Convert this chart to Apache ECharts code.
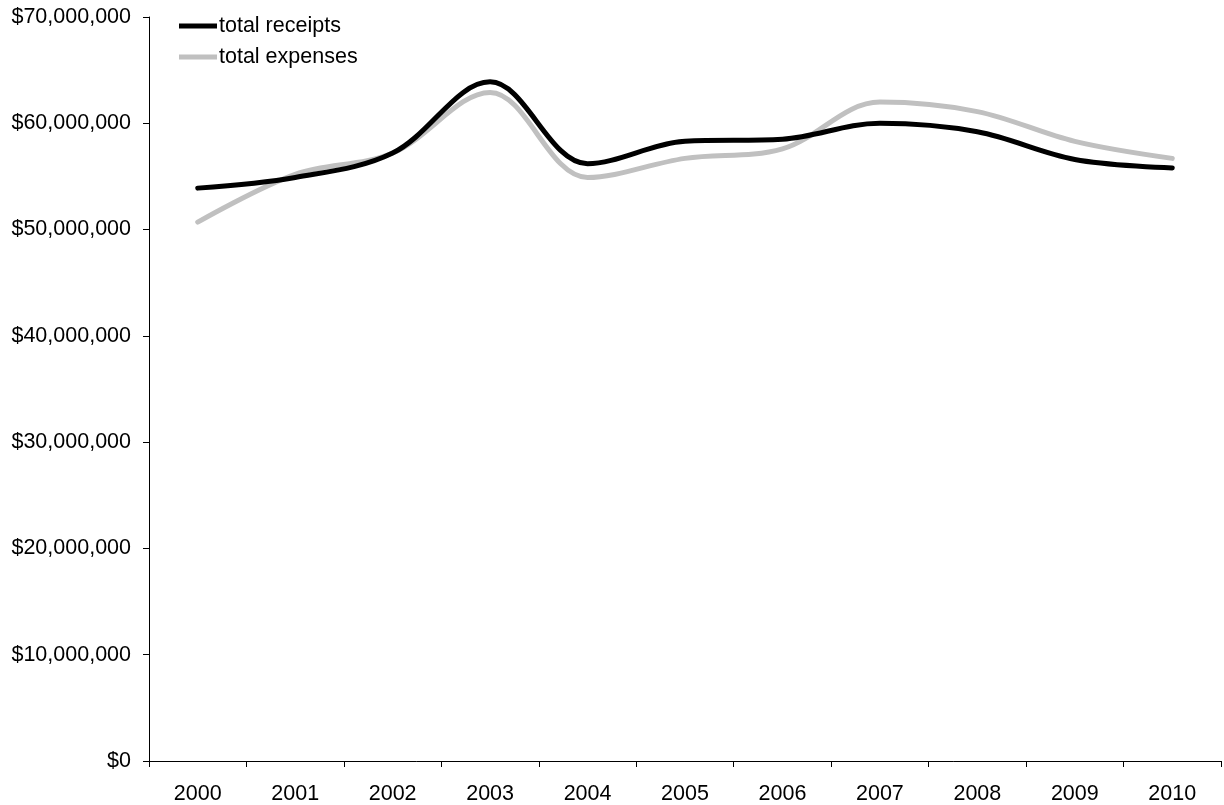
<!DOCTYPE html>
<html>
<head>
<meta charset="utf-8">
<script src="https://cdn.jsdelivr.net/npm/echarts@6/dist/echarts.min.js"></script>
<style>
html,body{margin:0;padding:0;background:#fff;}
#chart{width:1224px;height:805px;}
</style>
</head>
<body>
<div id="chart"></div>
<script>
const years = ['2000','2001','2002','2003','2004','2005','2006','2007','2008','2009','2010'];
const totalReceipts = [53900000, 54900000, 57200000, 63900000, 56200000, 58300000, 58500000, 60000000, 59200000, 56600000, 55800000];
const totalExpenses = [50700000, 55200000, 57200000, 62900000, 54900000, 56700000, 57600000, 62000000, 61100000, 58300000, 56700000];
const seriesNames = ['total receipts', 'total expenses'];

const FONT = '"Liberation Sans", Arial, sans-serif';
const chart = echarts.init(document.getElementById('chart'), null, {renderer: 'canvas'});
chart.setOption({
  animation: false,
  backgroundColor: '#ffffff',
  grid: {left: 149, right: 3, top: 17, bottom: 42, containLabel: false},
  legend: {
    orient: 'vertical',
    left: 174,
    top: 10,
    itemWidth: 38,
    itemHeight: 5,
    itemGap: 9,
    icon: 'rect',
    textStyle: {fontFamily: FONT, fontSize: 21.5, color: '#000', padding: [0,0,0,-3]},
    data: seriesNames
  },
  xAxis: {
    type: 'category',
    data: years,
    boundaryGap: true,
    axisLine: {lineStyle: {color: '#000', width: 1}},
    axisTick: {show: true, length: 6, lineStyle: {color: '#000'}},
    axisLabel: {fontFamily: FONT, fontSize: 21.5, color: '#000', margin: 22},
    splitLine: {show: false}
  },
  yAxis: {
    type: 'value',
    min: 0,
    max: 70000000,
    interval: 10000000,
    axisLine: {show: true, lineStyle: {color: '#000', width: 1}},
    axisTick: {show: true, length: 6, lineStyle: {color: '#000'}},
    axisLabel: {
      fontFamily: FONT, fontSize: 21.5, color: '#000', margin: 18,
      formatter: v => '$' + v.toLocaleString('en-US')
    },
    splitLine: {show: false}
  },
  series: [
    {
      name: seriesNames[0], type: 'line', data: totalReceipts, smooth: 0.35,
      symbol: 'none', z: 3,
      lineStyle: {color: '#000', width: 5, cap: 'round'},
      itemStyle: {color: '#000'}
    },
    {
      name: seriesNames[1], type: 'line', data: totalExpenses, smooth: 0.35,
      symbol: 'none', z: 2,
      lineStyle: {color: '#c0c0c0', width: 5, cap: 'round'},
      itemStyle: {color: '#c0c0c0'}
    }
  ]
});
</script>
</body>
</html>
